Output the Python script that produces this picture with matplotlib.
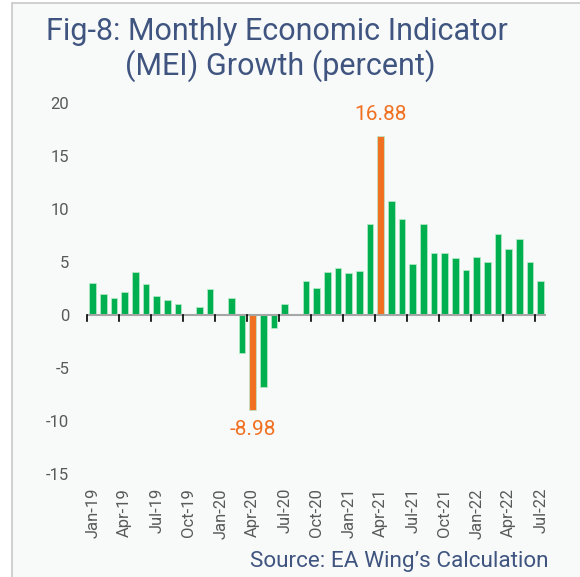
import matplotlib
matplotlib.use("Agg")
import matplotlib.pyplot as plt
from matplotlib.patches import Rectangle
import numpy as np

months = ["Jan-19","Feb-19","Mar-19","Apr-19","May-19","Jun-19","Jul-19","Aug-19","Sep-19","Oct-19","Nov-19","Dec-19",
          "Jan-20","Feb-20","Mar-20","Apr-20","May-20","Jun-20","Jul-20","Aug-20","Sep-20","Oct-20","Nov-20","Dec-20",
          "Jan-21","Feb-21","Mar-21","Apr-21","May-21","Jun-21","Jul-21","Aug-21","Sep-21","Oct-21","Nov-21","Dec-21",
          "Jan-22","Feb-22","Mar-22","Apr-22","May-22","Jun-22","Jul-22"]
growth = [3.05, 2.01, 1.57, 2.20, 4.03, 2.92, 1.76, 1.45, 1.07, 0.05, 0.72, 2.48,
          0.10, 1.64, -3.55, -8.98, -6.82, -1.23, 1.04, 0.13, 3.24, 2.52, 4.06, 4.47,
          3.93, 4.15, 8.58, 16.88, 10.79, 9.06, 4.81, 8.62, 5.82, 5.88, 5.41, 4.28,
          5.47, 5.03, 7.64, 6.26, 7.20, 5.00, 3.24]
highlight = ["Apr-20", "Apr-21"]
yticks = [-15, -10, -5, 0, 5, 10, 15, 20]

GREEN = "#00b050"
ORANGE = "#f07122"
TITLE = "#3f5580"
GRAY = "#595959"
BG = "#f8f9f9"

plt.rcParams['font.family'] = ['Roboto', 'DejaVu Sans']

fig = plt.figure(figsize=(5.8, 5.77), dpi=100)
fig.patch.set_facecolor("white")
fig.patches.append(Rectangle((12/580, -0.01), 1.0, 1 - 3/577 + 0.01, transform=fig.transFigure,
                             facecolor=BG, edgecolor="#c8c8c8", linewidth=1.2, zorder=-10))

ax = fig.add_axes([87.4/580, 1 - 474/577, (546 - 87.4)/580, (474 - 103)/577])
ax.set_facecolor("none")
ax.set_zorder(1)

x = np.arange(len(months))
colors = [ORANGE if m in highlight else GREEN for m in months]
ax.bar(x, growth, width=0.63, color=colors, edgecolor="#b8ecc8", linewidth=0.5, zorder=2)

ax.set_xlim(-0.5, len(months) - 0.5)
ax.set_ylim(-15, 20)
ax.set_yticks(yticks)
ax.set_yticklabels([str(v) for v in yticks], color=GRAY, fontsize=12)
ax.tick_params(axis='y', length=0, pad=13)

for s in ax.spines.values():
    s.set_visible(False)
ax.axhline(0, color="#a6a6a6", linewidth=1.5, zorder=3)

major = x[::3]
ax.set_xticks(major)
ax.set_xticklabels([months[i] for i in major], rotation=90, color=GRAY, fontsize=12)
ax.tick_params(axis='x', length=0, pad=10)
for t in major:
    ax.plot([t - 0.5, t - 0.5], [0, -0.55], color="black", linewidth=1.2, zorder=3, clip_on=False)

for m, v in zip(months, growth):
    if m in highlight:
        i = months.index(m)
        if v > 0:
            ax.text(i, v + 1.1, f"{v:.2f}", color=ORANGE, ha="center", va="bottom", fontsize=15)
        else:
            ax.text(i, v - 0.9, f"{v:.2f}", color=ORANGE, ha="center", va="top", fontsize=15)

fig.text(277/580, 1 - 31/577, "Fig-8: Monthly Economic Indicator", ha="center", va="center",
         color=TITLE, fontsize=22)
fig.text(280/580, 1 - 66/577, "(MEI) Growth (percent)", ha="center", va="center",
         color=TITLE, fontsize=22)
fig.text(548/580, 1 - 561/577, "Source: EA Wing\u2019s Calculation", ha="right", va="center",
         color=TITLE, fontsize=16.2)

fig.savefig("out.png", dpi=100)
